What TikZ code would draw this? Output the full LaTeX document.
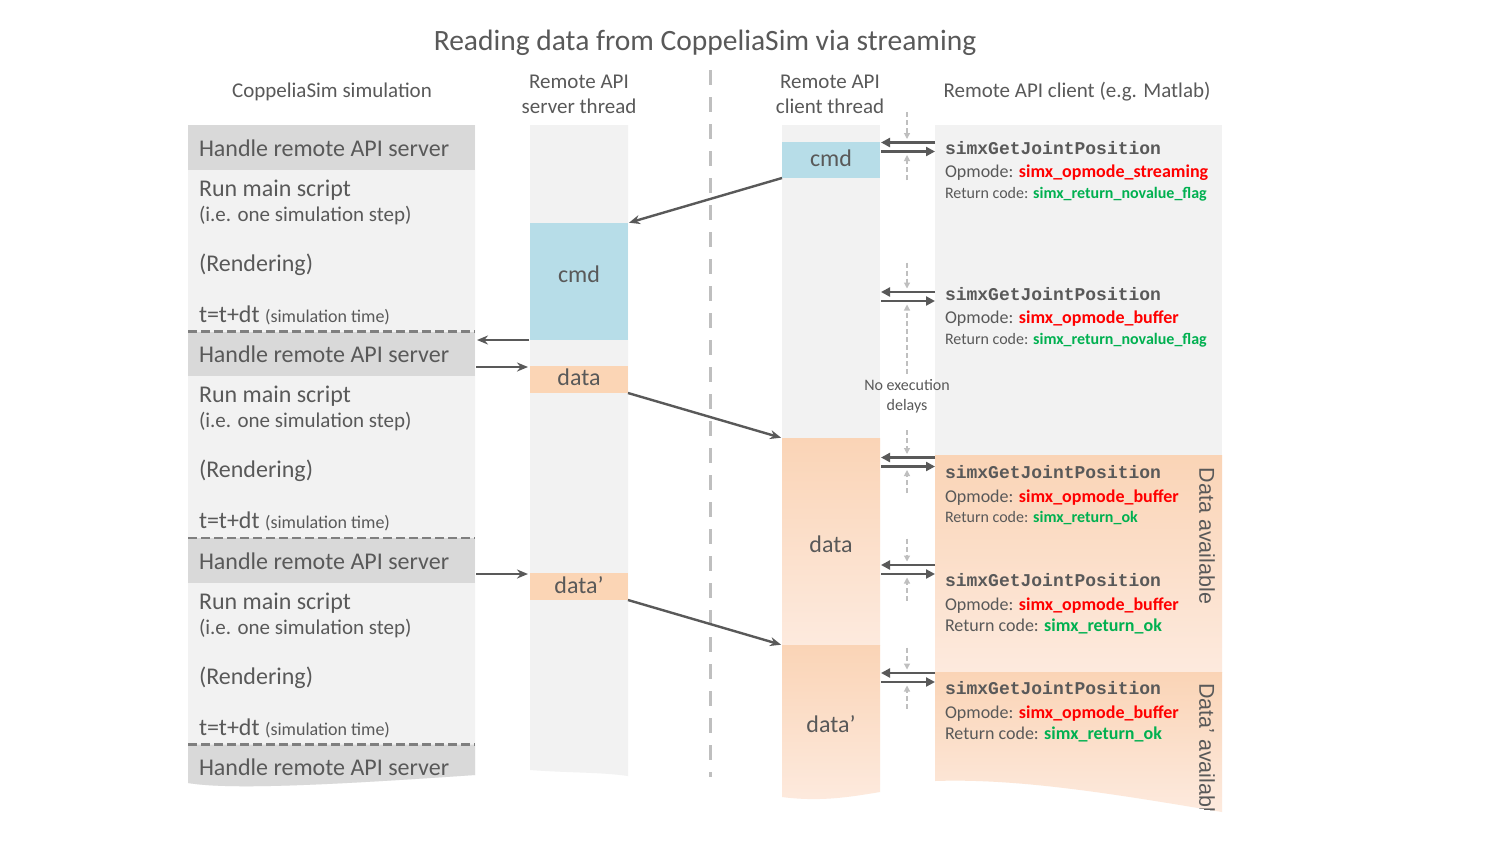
\documentclass[tikz,border=0pt]{standalone}
\usepackage{fontspec}
\setmainfont{Carlito}
\newfontfamily\monof{Liberation Mono}
\newfontfamily\arialf{Liberation Sans}
\usetikzlibrary{arrows.meta,calc}
\definecolor{txt}{HTML}{595959}
\definecolor{hdr}{HTML}{D9D9D9}
\definecolor{lgr}{HTML}{F2F2F2}
\definecolor{cmdblue}{HTML}{B7DDE8}
\definecolor{peach}{HTML}{FBD5B5}
\definecolor{peachA}{HTML}{FAD4B6}
\definecolor{peachB}{HTML}{FDEADE}
\definecolor{dashg}{HTML}{BFBFBF}
\definecolor{sepg}{HTML}{7F7F7F}
\definecolor{opred}{HTML}{FF0000}
\definecolor{okgreen}{HTML}{00B050}
\newcommand\fsz[1]{\fontsize{#1}{#1}\selectfont}
\begin{document}
\begin{tikzpicture}[x=1pt,y=-1pt,
  box/.style={draw=none,inner sep=0pt,outer sep=0pt,rectangle},
  lbl/.style={inner sep=0pt,outer sep=0pt,text=txt,anchor=base west,font=\fsz{24}},
  sublbl/.style={lbl,font=\fsz{21}},
  ctr/.style={inner sep=0pt,outer sep=0pt,text=txt,anchor=base,font=\fsz{24}},
  head/.style={inner sep=0pt,outer sep=0pt,text=txt,anchor=base,font=\fsz{21}},
  mono/.style={inner sep=0pt,outer sep=0pt,text=txt,anchor=base west,font=\monof\bfseries\fsz{18}},
  opm/.style={inner sep=0pt,outer sep=0pt,text=txt,anchor=base west,font=\fsz{18}},
  ret/.style={inner sep=0pt,outer sep=0pt,text=txt,anchor=base west,font=\fsz{16}},
  vert/.style={inner sep=0pt,outer sep=0pt,text=txt,rotate=-90,font=\arialf\fsz{21.5}},
  marr/.style={draw=txt,line width=2.4pt,-{Stealth[length=11pt,width=9pt]}},
  darr/.style={draw=txt,line width=2.8pt,-{Triangle[length=9pt,width=9pt]}},
  sarr/.style={draw=dashg,line width=1.2pt,dash pattern=on 5pt off 3pt,-{Triangle[length=6pt,width=6pt]}},
  sepline/.style={draw=sepg,line width=2.5pt,dash pattern=on 9pt off 4pt},
]
\useasboundingbox[fill=white] (0,0) rectangle (1485,847);

% ---------- titles ----------
\node[inner sep=0pt,text=txt,anchor=base,font=\fsz{29.5}] (title) at (705,50.5) {Reading data from CoppeliaSim via streaming};
\node[head] (hsim) at (332,97) {CoppeliaSim simulation};
\node[head] (hs1) at (579,88) {Remote API};
\node[head] (hs2) at (579,113) {server thread};
\node[head] (hc1) at (830,88) {Remote API};
\node[head] (hc2) at (830,113) {client thread};
\node[head] (hcl) at (1077,97) {Remote API client (e.g. Matlab)};

% ---------- left column ----------
\fill[lgr] (188,125) -- (475,125) -- (475,775) .. controls (330,785) and (230,790) .. (188,783) -- cycle;
\fill[hdr] (188,125) rectangle (475,170);
\node[box,fill=hdr,minimum width=287pt,minimum height=44.5pt] (h2) at (331.5,353.75) {};
\node[box,fill=hdr,minimum width=287pt,minimum height=44.5pt] (h3) at (331.5,560.25) {};
\fill[hdr] (188,744.5) -- (475,744.5) -- (475,775) .. controls (330,785) and (230,790) .. (188,783) -- cycle;
\draw[sepline] (188,331.5) -- (475,331.5);
\draw[sepline] (188,538) -- (475,538);
\draw[sepline] (188,744.5) -- (475,744.5);

\foreach \k in {0,1,2}{
  \pgfmathsetmacro\o{\k*206.5}
  \node[lbl] (hl\k) at (199,{156+\o}) {Handle remote API server};
  \node[lbl] (rm\k) at (199,{196+\o}) {Run main script};
  \node[sublbl] (ie\k) at (199,{221+\o}) {(i.e. one simulation step)};
  \node[lbl] (re\k) at (199,{271+\o}) {(Rendering)};
  \node[lbl] (tt\k) at (199,{322+\o}) {t=t+dt {\fsz{18}(simulation time)}};
}
\node[lbl] (hl3) at (199,775.5) {Handle remote API server};

% ---------- server thread ----------
\fill[lgr] (530,125) -- (628,125) -- (628,776) .. controls (600,772) and (570,773) .. (530,770) -- cycle;
\node[box,fill=cmdblue,minimum width=98pt,minimum height=117pt] (scmd) at (579,281.5) {};
\node[box,fill=peach,minimum width=98pt,minimum height=27pt] (sdata) at (579,379.5) {};
\node[box,fill=peach,minimum width=98pt,minimum height=27pt] (sdata2) at (579,586.5) {};
\node[ctr] (scmdt) at (579,282) {cmd};
\node[ctr] (sdatat) at (579,385.5) {data};
\node[ctr] (sdata2t) at (579,593.5) {data’};

% ---------- centre divider ----------
\draw[dashg,line width=3pt,dash pattern=on 15pt off 12pt] (710,70) -- (710,777);

% ---------- client thread ----------
\fill[lgr] (782,125) rectangle (880,438);
\node[box,fill=cmdblue,minimum width=98pt,minimum height=36pt] (ccmd) at (831,160) {};
\node[box,top color=peachA,bottom color=peachB,minimum width=98pt,minimum height=207pt] (cdata) at (831,541.5) {};
\shade[top color=peachA,bottom color=peachB] (782,645) -- (880,645) -- (880,792) .. controls (850,797) and (820,802) .. (782,797) -- cycle;
\node[ctr] (ccmdt) at (831,166.5) {cmd};
\node[ctr] (cdatat) at (831,552.5) {data};
\node[ctr] (cdata2t) at (831,732.5) {data’};

% ---------- client ----------
\fill[lgr] (935,125) rectangle (1222,455);
\shade[top color=peachA,bottom color=peachB] (935,455) rectangle (1222,672);
\shade[top color=peachA,bottom color=peachB] (935,672) -- (1222,672) -- (1222,812) .. controls (1120,795) and (1020,778) .. (935,781) -- cycle;
\node[vert] (da1) at (1207,536) {Data available};
\begin{scope}
  \clip (935,672) -- (1222,672) -- (1222,812) .. controls (1120,795) and (1020,778) .. (935,781) -- cycle;
  \node[vert,anchor=west] (da2) at (1207,683) {Data’ available};
\end{scope}

% call blocks
\node[mono] (q1) at (945,154.5) {simxGetJointPosition};
\node[opm] (o1) at (945,177) {Opmode: \textcolor{opred}{\bfseries simx\_opmode\_streaming}};
\node[ret] (r1) at (945,198) {Return code: \textcolor{okgreen}{\bfseries simx\_return\_novalue\_flag}};

\node[mono] (q2) at (945,300.5) {simxGetJointPosition};
\node[opm] (o2) at (945,323) {Opmode: \textcolor{opred}{\bfseries simx\_opmode\_buffer}};
\node[ret] (r2) at (945,344) {Return code: \textcolor{okgreen}{\bfseries simx\_return\_novalue\_flag}};

\node[mono] (q3) at (945,478.5) {simxGetJointPosition};
\node[opm] (o3) at (945,502) {Opmode: \textcolor{opred}{\bfseries simx\_opmode\_buffer}};
\node[ret] (r3) at (945,522) {Return code: \textcolor{okgreen}{\bfseries simx\_return\_ok}};

\node[mono] (q4) at (945,586.5) {simxGetJointPosition};
\node[opm] (o4) at (945,610) {Opmode: \textcolor{opred}{\bfseries simx\_opmode\_buffer}};
\node[opm] (r4) at (945,631) {Return code: \textcolor{okgreen}{\bfseries simx\_return\_ok}};

\node[mono] (q5) at (945,694.5) {simxGetJointPosition};
\node[opm] (o5) at (945,718) {Opmode: \textcolor{opred}{\bfseries simx\_opmode\_buffer}};
\node[opm] (r5) at (945,739) {Return code: \textcolor{okgreen}{\bfseries simx\_return\_ok}};

\node[inner sep=0pt,text=txt,anchor=base,font=\fsz{16}] (ne1) at (907,390.5) {No execution};
\node[inner sep=0pt,text=txt,anchor=base,font=\fsz{16}] (ne2) at (907,410) {delays};

% double arrows and delay markers
\foreach \k/\m/\a/\b in {1/147/35/33, 2/296.5/34/77, 3/462/32/31, 4/569.5/31/31, 5/677.5/30/31}{
  \coordinate (cr\k) at (935,{\m-4.5});
  \coordinate (cl\k) at (881,{\m-4.5});
  \draw[darr] (cr\k) -- (cl\k);
  \coordinate (dl\k) at (881,{\m+4.5});
  \coordinate (dr\k) at (935,{\m+4.5});
  \draw[darr] (dl\k) -- (dr\k);
  \coordinate (ut\k) at (907,{\m-\a});
  \coordinate (ub\k) at (907,{\m-8});
  \draw[sarr] (ut\k) -- (ub\k);
  \coordinate (lt\k) at (907,{\m+\b});
  \coordinate (lb\k) at (907,{\m+8});
  \draw[sarr] (lt\k) -- (lb\k);
}

% ---------- main arrows ----------
\draw[marr,shorten >=1pt] (ccmd.south west) -- (scmd.north east);
\draw[marr,shorten <=1pt,shorten >=2pt] (scmd.south west) -- (scmd.south west -| h2.east);
\coordinate (s1) at ([yshift=-1pt]sdata.north west);
\draw[marr,shorten <=1pt,shorten >=2pt] (s1 -| h2.east) -- (s1);
\draw[marr,shorten >=1pt] (sdata.south east) -- (cdata.north west);
\coordinate (s2) at ([yshift=-1pt]sdata2.north west);
\draw[marr,shorten <=1pt,shorten >=2pt] (s2 -| h3.east) -- (s2);
\draw[marr,shorten >=1pt] (sdata2.south east) -- (cdata.south west);
\end{tikzpicture}
\end{document}
